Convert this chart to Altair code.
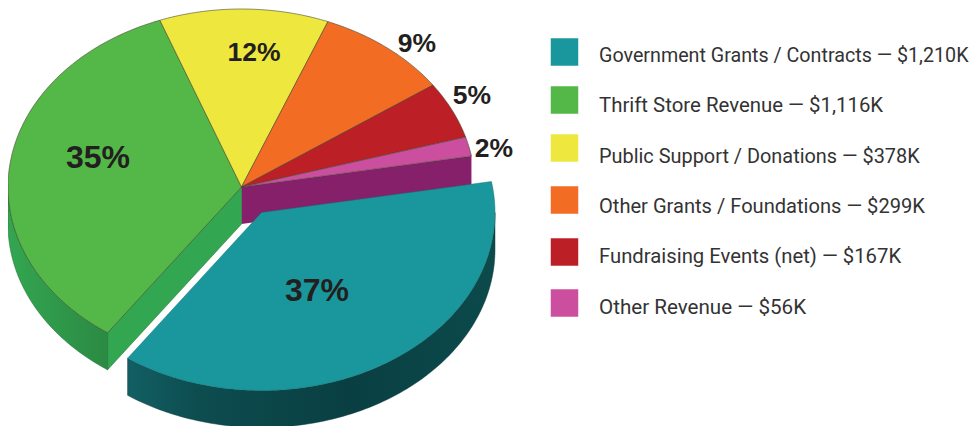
import math
import altair as alt
import pandas as pd

categories = ["Government Grants / Contracts", "Thrift Store Revenue", "Public Support / Donations",
              "Other Grants / Foundations", "Fundraising Events (net)", "Other Revenue"]
amounts = [1210, 1116, 378, 299, 167, 56]
amount_labels = ["$1,210K", "$1,116K", "$378K", "$299K", "$167K", "$56K"]
percent_labels = ["37%", "35%", "12%", "9%", "5%", "2%"]
top_colors = ["#1A979C", "#53B848", "#EEE83E", "#F36C24", "#BC2026", "#CB4F9E"]

# Pie geometry, in page pixels: the tilted disc and how it is exploded.
CX, CY, RX, RY = 241.5, 187.0, 233.5, 178.0
DEPTH = 37.0
START_DEG = -125.0  # first slice begins here
EXPLODE = (20.0, 25.5)
OUTLINE = "#4a4a30"


def rim(t0, t1, dx=0.0, dy=0.0, n=None):
    n = n or max(2, int(abs(t1 - t0)) + 1)
    pts = []
    for i in range(n + 1):
        t = math.radians(t0 + (t1 - t0) * i / n)
        pts.append([CX + dx + RX * math.cos(t), CY + dy - RY * math.sin(t)])
    return pts


def feature(ring, **props):
    ring = list(ring) + [ring[0]]
    return {"type": "Feature", "properties": props,
            "geometry": {"type": "Polygon", "coordinates": [ring]}}


total = sum(amounts)
# Teal runs counter-clockwise from START_DEG; the others then follow smallest first.
order = [0, 5, 4, 3, 2, 1]
spans = {}
a0 = START_DEG
for i in order:
    a1 = a0 + amounts[i] / total * 360
    spans[i] = (a0, a1)
    a0 = a1

slices = {}
for i, c in enumerate(categories):
    dx, dy = EXPLODE if i == 0 else (0, 0)
    slices[i] = feature(rim(spans[i][0], spans[i][1], dx, dy) + [[CX + dx, CY + dy]], name=c)

p_end = rim(spans[0][1], spans[0][1], n=1)[0]
purple_wall = feature([[CX, CY], p_end, [p_end[0], p_end[1] + DEPTH], [CX, CY + DEPTH]], name="wall")
g_end = rim(spans[1][1], spans[1][1], n=1)[0]
green_wall = feature([[CX, CY], g_end, [g_end[0], g_end[1] + DEPTH], [CX, CY + DEPTH]], name="wall")
g_rim_top = rim(180, spans[1][1])
green_rim = feature(g_rim_top + [[x, y + DEPTH] for x, y in reversed(g_rim_top)], name="rim")
t_rim_top = rim(spans[0][0], 0, *EXPLODE)
teal_rim = feature(t_rim_top + [[x, y + DEPTH] for x, y in reversed(t_rim_top)], name="rim")


def grad(stops):
    return alt.Gradient(gradient="linear", x1=0, x2=1, y1=0, y2=0,
                        stops=[alt.GradientStop(offset=o, color=c) for o, c in stops])


def shape(feat, fill, stroke=None, sw=0.8):
    kw = dict(fill=fill, clip=True)
    if stroke:
        kw.update(stroke=stroke, strokeWidth=sw, strokeOpacity=0.75)
    else:
        kw.update(strokeWidth=0)
    return alt.Chart(alt.Data(values=[feat])).mark_geoshape(**kw).project(
        type="identity", scale=1, translate=[-8, -8])


layers = [
    shape(purple_wall, "#86206B"),
    shape(green_wall, "#33A651", "#1f7a35"),
    shape(green_rim, grad([(0, "#33A651"), (1, "#2B8A43")]), "#1f7a35"),
]
for i in range(1, 6):
    layers.append(shape(slices[i], top_colors[i], OUTLINE))
layers += [
    shape(teal_rim, grad([(0, "#125F63"), (0.2, "#0D4C4F"), (0.6, "#093F42"), (1, "#0C4A4C")]), "#0a3638", 0.6),
    shape(slices[0], top_colors[0], "#0f6f72", 0.6),
]

# Percent labels: page position of each label's centre
pct = pd.DataFrame({
    "label": percent_labels,
    "x": [317 - 8, 98 - 8, 254 - 8, 417 - 8, 472 - 8, 494 - 8],
    "y": [291 - 8, 158 - 8, 53 - 8, 44 - 8, 96 - 8, 149 - 8],
    "size": [32, 32, 26.5, 26.5, 26.5, 26.5],
})
layers.append(alt.Chart(pct).mark_text(font="Liberation Sans", fontWeight="bold", color="#231F20",
                                        align="center", baseline="middle").encode(
    x=alt.X("x:Q", scale=None), y=alt.Y("y:Q", scale=None),
    text="label:N", size=alt.Size("size:Q", scale=None)))

# Legend
legend = pd.DataFrame({
    "text": [f"{c} \u2014 {a}" for c, a in zip(categories, amount_labels)],
    "fill": top_colors,
    "sy": [52 - 8, 100 - 8, 148 - 8, 200 - 8, 252 - 8, 303 - 8],
    "ty": [56 - 8, 106 - 8, 157 - 8, 207 - 8, 257 - 8, 308 - 8],
    "fs": [19.7, 20.4, 19.9, 20.1, 20.3, 20.6],
})
layers.append(alt.Chart(legend).mark_square(size=756, opacity=1).encode(
    x=alt.value(564.5 - 8), y=alt.Y("sy:Q", scale=None), fill=alt.Fill("fill:N", scale=None)))
layers.append(alt.Chart(legend).mark_text(font="Roboto", color="#333333",
                                           align="left", baseline="middle").encode(
    x=alt.value(599 - 8), y=alt.Y("ty:Q", scale=None), text="text:N", size=alt.Size("fs:Q", scale=None)))

chart = alt.layer(*layers).resolve_scale(fill="independent", size="independent", x="independent", y="independent").properties(
    width=961, height=418, padding=0, background="white").configure_view(strokeWidth=0)
chart.save("out.html", embed_options={"renderer": "svg", "actions": False})
